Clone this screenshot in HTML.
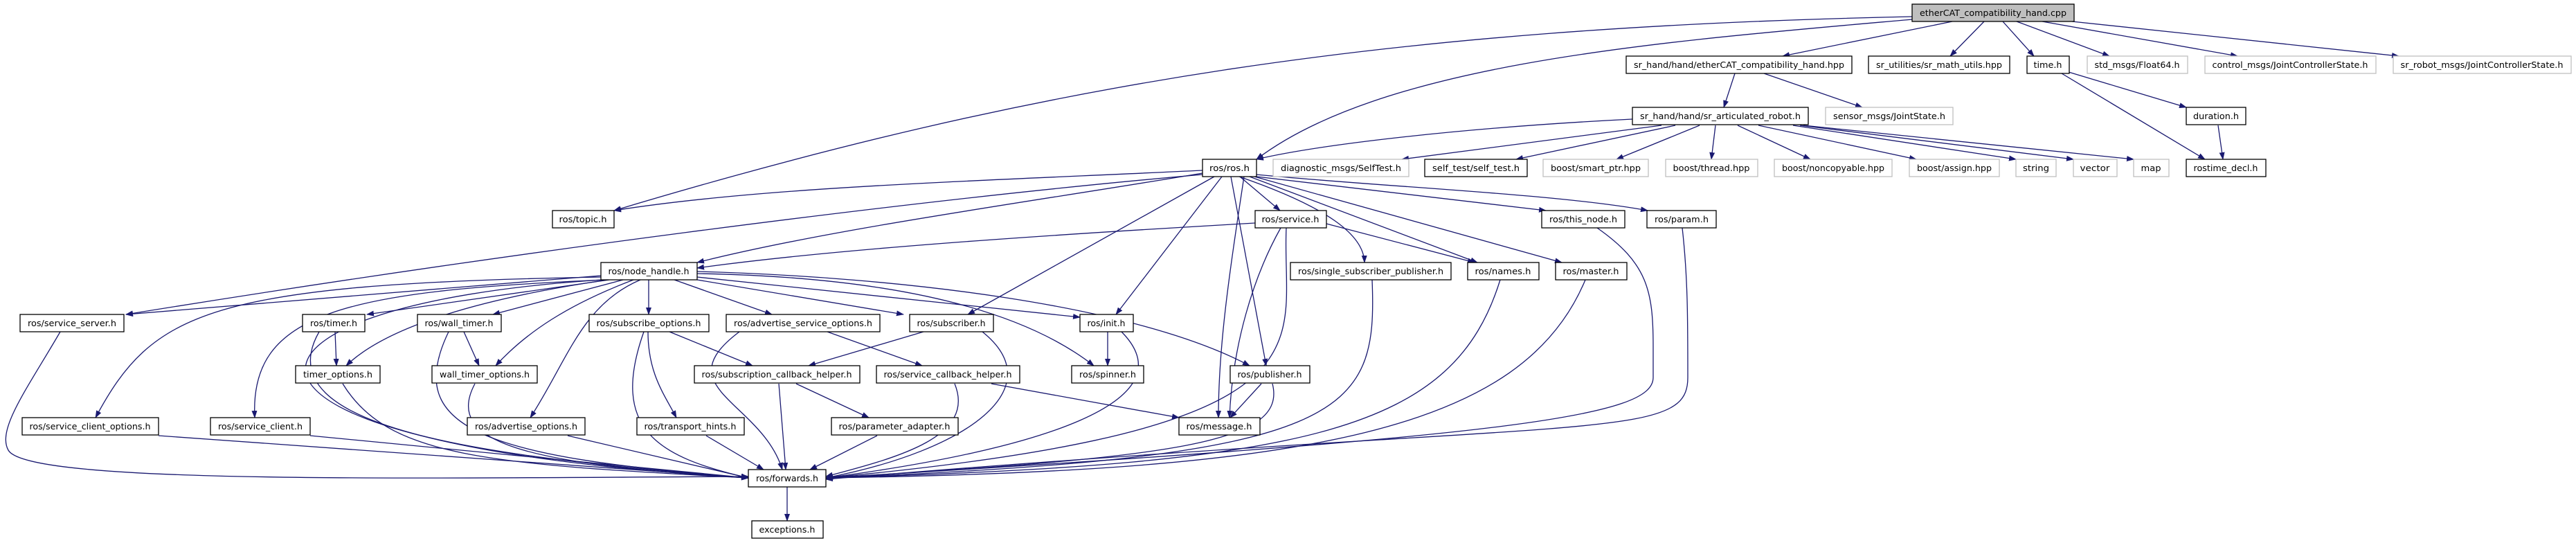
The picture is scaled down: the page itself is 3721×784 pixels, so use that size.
<!DOCTYPE html>
<html><head><meta charset="utf-8"><style>
html,body{margin:0;padding:0;background:#fff;}
svg{display:block}
text{font-family:"DejaVu Sans","Liberation Sans",sans-serif;font-size:12px;fill:#000}
.e{fill:none;stroke:#191970;stroke-width:1.3;marker-end:url(#ah)}
.n{fill:#fff;stroke:#000;stroke-width:1.3}
.g{fill:#fff;stroke:#bfbfbf;stroke-width:1.3}
.r{fill:#bfbfbf;stroke:#000;stroke-width:1.3}
</style></head><body>
<svg width="3721" height="784" viewBox="0 0 3721 784" xmlns="http://www.w3.org/2000/svg">
<defs><marker id="ah" markerWidth="11" markerHeight="8" refX="10" refY="4" orient="auto" markerUnits="userSpaceOnUse"><path d="M0,0 L11,4 L0,8 z" fill="#191970"/></marker></defs>
<g>
<path class="e" d="M2820,31 L2575,81"/>
<path class="e" d="M2866,31 L2817,81"/>
<path class="e" d="M2893,31 L2938,81"/>
<path class="e" d="M2913,31 L3047,81"/>
<path class="e" d="M2950,31 L3232,81"/>
<path class="e" d="M2993,31 L3465,81"/>
<path class="e" d="M2762,28 C2400,60 2000,90 1815,230"/>
<path class="e" d="M2762,24 C2000,40 1500,120 887,304"/>
<path class="e" d="M2506,106 L2490,155"/>
<path class="e" d="M2548,106 L2690,155"/>
<path class="e" d="M2358,172 C2100,185 1900,210 1815,230"/>
<path class="e" d="M2400,181 L2025,230"/>
<path class="e" d="M2420,181 L2190,230"/>
<path class="e" d="M2455,181 L2335,230"/>
<path class="e" d="M2478,181 L2472,230"/>
<path class="e" d="M2510,181 L2615,230"/>
<path class="e" d="M2540,181 L2768,230"/>
<path class="e" d="M2590,181 L2912,230"/>
<path class="e" d="M2600,181 L2995,230"/>
<path class="e" d="M2605,181 L3082,230"/>
<path class="e" d="M2988,104 L3158,155"/>
<path class="e" d="M2978,106 L3185,230"/>
<path class="e" d="M3204,181 L3211,230"/>
<path class="e" d="M1737,246 C1400,262 1100,270 887,304"/>
<path class="e" d="M1737,250 C1500,290 1200,330 1007,379"/>
<path class="e" d="M1737,252 C1300,290 700,370 182,454"/>
<path class="e" d="M1813,322 C1500,340 1200,360 1007,387"/>
<path class="e" d="M1791,255 L1849,304"/>
<path class="e" d="M1815,255 L2233,304"/>
<path class="e" d="M1815,252 C2000,270 2250,280 2380,304"/>
<path class="e" d="M1805,255 L2134,379"/>
<path class="e" d="M1812,255 L2256,379"/>
<path class="e" d="M1790,255 C1920,300 1970,340 1971,379"/>
<path class="e" d="M1754,255 L1398,454"/>
<path class="e" d="M1765,255 L1612,454"/>
<path class="e" d="M1778,255 L1829,528"/>
<path class="e" d="M1797,255 C1775,400 1760,500 1760,603"/>
<path class="e" d="M1850,329 C1810,400 1780,500 1776,603"/>
<path class="e" d="M1916,323 L2130,379"/>
<path class="e" d="M1858,329 C1850,500 1950,620 1193,690"/>
<path class="e" d="M1007,395 C1300,400 1480,450 1580,528"/>
<path class="e" d="M1007,392 C1300,400 1640,440 1805,528"/>
<path class="e" d="M1007,400 L1560,458"/>
<path class="e" d="M1007,404 L1305,454"/>
<path class="e" d="M974,404 L1115,454"/>
<path class="e" d="M937,404 L937,454"/>
<path class="e" d="M900,404 L712,454"/>
<path class="e" d="M880,404 L530,454"/>
<path class="e" d="M868,398 L182,454"/>
<path class="e" d="M878,404 C700,430 560,470 500,528"/>
<path class="e" d="M915,404 C820,440 760,480 716,528"/>
<path class="e" d="M925,404 C840,440 820,520 766,603"/>
<path class="e" d="M875,404 C500,420 360,450 368,603"/>
<path class="e" d="M868,400 C300,410 220,450 138,603"/>
<path class="e" d="M870,404 C300,440 230,640 1081,690"/>
<path class="e" d="M87,479 C40,560 -5,620 12,650 C40,700 600,690 1081,688"/>
<path class="e" d="M229,629 L1081,690"/>
<path class="e" d="M448,629 L1081,690"/>
<path class="e" d="M461,479 C380,620 700,660 1081,690"/>
<path class="e" d="M495,554 C560,660 700,670 1081,690"/>
<path class="e" d="M648,479 C580,620 700,660 1081,690"/>
<path class="e" d="M686,554 C640,640 760,670 1081,690"/>
<path class="e" d="M820,629 L1081,690"/>
<path class="e" d="M484,479 L486,528"/>
<path class="e" d="M670,479 L692,528"/>
<path class="e" d="M967,479 L1087,528"/>
<path class="e" d="M936,479 C936,540 960,570 977,603"/>
<path class="e" d="M930,479 C880,620 950,660 1081,690"/>
<path class="e" d="M1334,479 L1168,528"/>
<path class="e" d="M1195,479 L1332,528"/>
<path class="e" d="M1068,479 C960,560 1100,580 1130,678"/>
<path class="e" d="M1150,554 L1255,603"/>
<path class="e" d="M1125,554 L1135,678"/>
<path class="e" d="M1020,629 L1103,678"/>
<path class="e" d="M1267,629 L1170,678"/>
<path class="e" d="M1432,554 L1703,603"/>
<path class="e" d="M1379,554 C1410,630 1300,660 1193,688"/>
<path class="e" d="M1419,479 C1520,560 1400,650 1193,690"/>
<path class="e" d="M1620,479 C1720,580 1500,650 1193,690"/>
<path class="e" d="M1600,479 L1600,528"/>
<path class="e" d="M1822,554 L1777,603"/>
<path class="e" d="M1838,554 C1860,640 1700,660 1193,690"/>
<path class="e" d="M1982,404 C1990,600 1950,660 1193,690"/>
<path class="e" d="M2167,404 C2100,620 1900,670 1193,690"/>
<path class="e" d="M2290,404 C2200,620 1900,680 1193,690"/>
<path class="e" d="M2307,329 C2380,380 2388,420 2388,500 L2388,545 C2388,600 2200,630 1193,690"/>
<path class="e" d="M2430,329 C2438,400 2438,460 2438,545 C2438,640 2300,600 1193,692"/>
<path class="e" d="M1137,703 L1137,752"/>
</g>
<g>
<rect class="r" x="2762" y="6" width="234" height="25"/><text x="2879" y="23" text-anchor="middle" textLength="212" lengthAdjust="spacingAndGlyphs">etherCAT_compatibility_hand.cpp</text>
<rect class="n" x="2349" y="81" width="326" height="25"/><text x="2512" y="98" text-anchor="middle" textLength="304" lengthAdjust="spacingAndGlyphs">sr_hand/hand/etherCAT_compatibility_hand.hpp</text>
<rect class="n" x="2699" y="81" width="204" height="25"/><text x="2801" y="98" text-anchor="middle" textLength="182" lengthAdjust="spacingAndGlyphs">sr_utilities/sr_math_utils.hpp</text>
<rect class="n" x="2928" y="81" width="61" height="25"/><text x="2958" y="98" text-anchor="middle" textLength="41" lengthAdjust="spacingAndGlyphs">time.h</text>
<rect class="g" x="3015" y="81" width="145" height="25"/><text x="3087" y="98" text-anchor="middle" textLength="123" lengthAdjust="spacingAndGlyphs">std_msgs/Float64.h</text>
<rect class="g" x="3185" y="81" width="247" height="25"/><text x="3308" y="98" text-anchor="middle" textLength="225" lengthAdjust="spacingAndGlyphs">control_msgs/JointControllerState.h</text>
<rect class="g" x="3457" y="81" width="257" height="25"/><text x="3585" y="98" text-anchor="middle" textLength="235" lengthAdjust="spacingAndGlyphs">sr_robot_msgs/JointControllerState.h</text>
<rect class="n" x="2358" y="155" width="254" height="25"/><text x="2485" y="172" text-anchor="middle" textLength="232" lengthAdjust="spacingAndGlyphs">sr_hand/hand/sr_articulated_robot.h</text>
<rect class="g" x="2637" y="155" width="184" height="25"/><text x="2729" y="172" text-anchor="middle" textLength="162" lengthAdjust="spacingAndGlyphs">sensor_msgs/JointState.h</text>
<rect class="n" x="3158" y="155" width="86" height="25"/><text x="3201" y="172" text-anchor="middle" textLength="66" lengthAdjust="spacingAndGlyphs">duration.h</text>
<rect class="n" x="1737" y="230" width="78" height="25"/><text x="1776" y="247" text-anchor="middle" textLength="58" lengthAdjust="spacingAndGlyphs">ros/ros.h</text>
<rect class="g" x="1839" y="230" width="196" height="25"/><text x="1937" y="247" text-anchor="middle" textLength="174" lengthAdjust="spacingAndGlyphs">diagnostic_msgs/SelfTest.h</text>
<rect class="n" x="2058" y="230" width="148" height="25"/><text x="2132" y="247" text-anchor="middle" textLength="126" lengthAdjust="spacingAndGlyphs">self_test/self_test.h</text>
<rect class="g" x="2229" y="230" width="152" height="25"/><text x="2305" y="247" text-anchor="middle" textLength="130" lengthAdjust="spacingAndGlyphs">boost/smart_ptr.hpp</text>
<rect class="g" x="2406" y="230" width="133" height="25"/><text x="2472" y="247" text-anchor="middle" textLength="111" lengthAdjust="spacingAndGlyphs">boost/thread.hpp</text>
<rect class="g" x="2563" y="230" width="170" height="25"/><text x="2648" y="247" text-anchor="middle" textLength="148" lengthAdjust="spacingAndGlyphs">boost/noncopyable.hpp</text>
<rect class="g" x="2758" y="230" width="130" height="25"/><text x="2823" y="247" text-anchor="middle" textLength="108" lengthAdjust="spacingAndGlyphs">boost/assign.hpp</text>
<rect class="g" x="2912" y="230" width="58" height="25"/><text x="2941" y="247" text-anchor="middle" textLength="38" lengthAdjust="spacingAndGlyphs">string</text>
<rect class="g" x="2995" y="230" width="63" height="25"/><text x="3026" y="247" text-anchor="middle" textLength="43" lengthAdjust="spacingAndGlyphs">vector</text>
<rect class="g" x="3082" y="230" width="51" height="25"/><text x="3107" y="247" text-anchor="middle" textLength="29" lengthAdjust="spacingAndGlyphs">map</text>
<rect class="n" x="3158" y="230" width="115" height="25"/><text x="3215" y="247" text-anchor="middle" textLength="93" lengthAdjust="spacingAndGlyphs">rostime_decl.h</text>
<rect class="n" x="798" y="304" width="89" height="25"/><text x="842" y="321" text-anchor="middle" textLength="69" lengthAdjust="spacingAndGlyphs">ros/topic.h</text>
<rect class="n" x="1813" y="304" width="103" height="25"/><text x="1864" y="321" text-anchor="middle" textLength="83" lengthAdjust="spacingAndGlyphs">ros/service.h</text>
<rect class="n" x="2227" y="304" width="120" height="25"/><text x="2287" y="321" text-anchor="middle" textLength="98" lengthAdjust="spacingAndGlyphs">ros/this_node.h</text>
<rect class="n" x="2379" y="304" width="100" height="25"/><text x="2429" y="321" text-anchor="middle" textLength="78" lengthAdjust="spacingAndGlyphs">ros/param.h</text>
<rect class="n" x="868" y="379" width="139" height="25"/><text x="937" y="396" text-anchor="middle" textLength="117" lengthAdjust="spacingAndGlyphs">ros/node_handle.h</text>
<rect class="n" x="1864" y="379" width="232" height="25"/><text x="1980" y="396" text-anchor="middle" textLength="210" lengthAdjust="spacingAndGlyphs">ros/single_subscriber_publisher.h</text>
<rect class="n" x="2120" y="379" width="103" height="25"/><text x="2171" y="396" text-anchor="middle" textLength="81" lengthAdjust="spacingAndGlyphs">ros/names.h</text>
<rect class="n" x="2247" y="379" width="103" height="25"/><text x="2298" y="396" text-anchor="middle" textLength="81" lengthAdjust="spacingAndGlyphs">ros/master.h</text>
<rect class="n" x="29" y="454" width="150" height="25"/><text x="104" y="471" text-anchor="middle" textLength="128" lengthAdjust="spacingAndGlyphs">ros/service_server.h</text>
<rect class="n" x="437" y="454" width="90" height="25"/><text x="482" y="471" text-anchor="middle" textLength="68" lengthAdjust="spacingAndGlyphs">ros/timer.h</text>
<rect class="n" x="603" y="454" width="121" height="25"/><text x="663" y="471" text-anchor="middle" textLength="99" lengthAdjust="spacingAndGlyphs">ros/wall_timer.h</text>
<rect class="n" x="851" y="454" width="173" height="25"/><text x="937" y="471" text-anchor="middle" textLength="151" lengthAdjust="spacingAndGlyphs">ros/subscribe_options.h</text>
<rect class="n" x="1049" y="454" width="222" height="25"/><text x="1160" y="471" text-anchor="middle" textLength="200" lengthAdjust="spacingAndGlyphs">ros/advertise_service_options.h</text>
<rect class="n" x="1314" y="454" width="121" height="25"/><text x="1374" y="471" text-anchor="middle" textLength="99" lengthAdjust="spacingAndGlyphs">ros/subscriber.h</text>
<rect class="n" x="1560" y="454" width="77" height="25"/><text x="1598" y="471" text-anchor="middle" textLength="55" lengthAdjust="spacingAndGlyphs">ros/init.h</text>
<rect class="n" x="427" y="528" width="122" height="25"/><text x="488" y="545" text-anchor="middle" textLength="100" lengthAdjust="spacingAndGlyphs">timer_options.h</text>
<rect class="n" x="624" y="528" width="152" height="25"/><text x="700" y="545" text-anchor="middle" textLength="130" lengthAdjust="spacingAndGlyphs">wall_timer_options.h</text>
<rect class="n" x="1003" y="528" width="239" height="25"/><text x="1122" y="545" text-anchor="middle" textLength="217" lengthAdjust="spacingAndGlyphs">ros/subscription_callback_helper.h</text>
<rect class="n" x="1266" y="528" width="207" height="25"/><text x="1369" y="545" text-anchor="middle" textLength="185" lengthAdjust="spacingAndGlyphs">ros/service_callback_helper.h</text>
<rect class="n" x="1548" y="528" width="104" height="25"/><text x="1600" y="545" text-anchor="middle" textLength="82" lengthAdjust="spacingAndGlyphs">ros/spinner.h</text>
<rect class="n" x="1777" y="528" width="115" height="25"/><text x="1834" y="545" text-anchor="middle" textLength="93" lengthAdjust="spacingAndGlyphs">ros/publisher.h</text>
<rect class="n" x="32" y="603" width="197" height="25"/><text x="130" y="620" text-anchor="middle" textLength="175" lengthAdjust="spacingAndGlyphs">ros/service_client_options.h</text>
<rect class="n" x="304" y="603" width="144" height="25"/><text x="376" y="620" text-anchor="middle" textLength="122" lengthAdjust="spacingAndGlyphs">ros/service_client.h</text>
<rect class="n" x="675" y="603" width="170" height="25"/><text x="760" y="620" text-anchor="middle" textLength="148" lengthAdjust="spacingAndGlyphs">ros/advertise_options.h</text>
<rect class="n" x="920" y="603" width="155" height="25"/><text x="997" y="620" text-anchor="middle" textLength="133" lengthAdjust="spacingAndGlyphs">ros/transport_hints.h</text>
<rect class="n" x="1201" y="603" width="183" height="25"/><text x="1292" y="620" text-anchor="middle" textLength="161" lengthAdjust="spacingAndGlyphs">ros/parameter_adapter.h</text>
<rect class="n" x="1703" y="603" width="117" height="25"/><text x="1761" y="620" text-anchor="middle" textLength="95" lengthAdjust="spacingAndGlyphs">ros/message.h</text>
<rect class="n" x="1081" y="678" width="112" height="25"/><text x="1137" y="695" text-anchor="middle" textLength="90" lengthAdjust="spacingAndGlyphs">ros/forwards.h</text>
<rect class="n" x="1086" y="752" width="103" height="25"/><text x="1137" y="769" text-anchor="middle" textLength="81" lengthAdjust="spacingAndGlyphs">exceptions.h</text>
</g>
</svg>
</body></html>
